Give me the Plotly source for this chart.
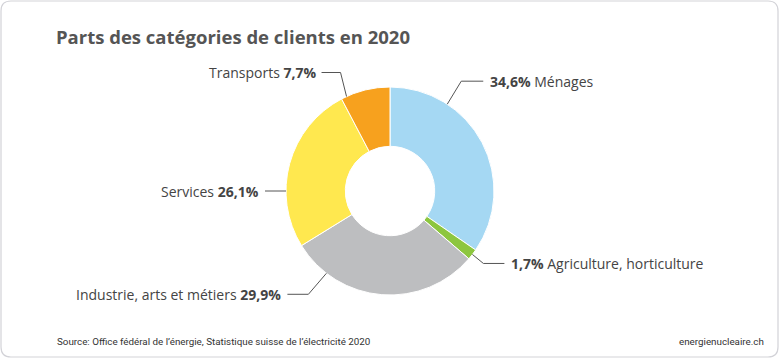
import math
import plotly.graph_objects as go

# ---- data ----
categories = ["Ménages", "Agriculture, horticulture", "Industrie, arts et métiers", "Services", "Transports"]
shares = [34.6, 1.7, 29.9, 26.1, 7.7]
share_labels = ["34,6%", "1,7%", "29,9%", "26,1%", "7,7%"]
colors = ["#A5D8F3", "#8DC63F", "#BDBEC0", "#FFE84F", "#F7A11E"]

title = "Parts des catégories de clients en 2020"
source = "Source: Office fédéral de l’énergie, Statistique suisse de l’électricité 2020"
site = "energienucleaire.ch"

# ---- layout / style ----
W, H = 780, 360
CX, CY, R = 390, 191, 104  # pie centre & radius in px
HOLE = 0.43
FONT = "'Open Sans', Lato, sans-serif"
TXT = "#444444"

# leader line style per label: (angle from top clockwise, elbow dx, elbow dy, horizontal length, side)
leaders = [
    (33.4, 14, -23, 22, "right"),
    (127.6, 11, 9, 21, "right"),
    (217.7, -18, 21, 21, "left"),
    (270.0, 0, 0, 21, "left"),
    (335.3, -6, -24, 19, "left"),
]


def px(x):
    return x / W


def py(y):
    return 1 - y / H


fig = go.Figure()
fig.add_trace(go.Pie(
    labels=categories,
    values=shares,
    sort=False,
    direction="clockwise",
    rotation=0,
    hole=HOLE,
    marker=dict(colors=colors, line=dict(color="white", width=1)),
    textinfo="none",
    hoverinfo="label+percent",
    showlegend=False,
    domain=dict(x=[px(CX - R), px(CX + R)], y=[py(CY + R), py(CY - R)]),
))

shapes = []
annotations = []
for cat, lab, (ang, edx, edy, hlen, side) in zip(categories, share_labels, leaders):
    a = math.radians(ang)
    sx = CX + R * math.sin(a)
    sy = CY - R * math.cos(a)
    ex, ey = sx + edx, sy + edy
    hx = ex + (hlen if side == "right" else -hlen)
    shapes.append(dict(type="path", xref="paper", yref="paper",
                       path=f"M {px(sx)} {py(sy)} L {px(ex)} {py(ey)} L {px(hx)} {py(ey)}",
                       line=dict(color="#555555", width=1)))
    if side == "right":
        text = f"<b>{lab}</b> {cat}"
        annotations.append(dict(x=px(hx + 5), y=py(ey), xref="paper", yref="paper",
                                text=text, showarrow=False, xanchor="left", yanchor="middle",
                                font=dict(family=FONT, size=14, color=TXT)))
    else:
        text = f"{cat} <b>{lab}</b>"
        annotations.append(dict(x=px(hx - 4), y=py(ey), xref="paper", yref="paper",
                                text=text, showarrow=False, xanchor="right", yanchor="middle",
                                font=dict(family=FONT, size=14, color=TXT)))

# card border (rounded rectangle)
x0, y0, x1, y1, rr = 1, 1, 778, 357, 10
card = (f"M {px(x0+rr)} {py(y0)} L {px(x1-rr)} {py(y0)} Q {px(x1)} {py(y0)} {px(x1)} {py(y0+rr)} "
        f"L {px(x1)} {py(y1-rr)} Q {px(x1)} {py(y1)} {px(x1-rr)} {py(y1)} "
        f"L {px(x0+rr)} {py(y1)} Q {px(x0)} {py(y1)} {px(x0)} {py(y1-rr)} "
        f"L {px(x0)} {py(y0+rr)} Q {px(x0)} {py(y0)} {px(x0+rr)} {py(y0)} Z")
shapes.append(dict(type="path", xref="paper", yref="paper", path=card,
                   line=dict(color="#D3D3D8", width=1.2), layer="below"))

annotations.append(dict(x=px(54), y=py(37), xref="paper", yref="paper", text=f"<b>{title}</b>",
                        showarrow=False, xanchor="left", yanchor="middle",
                        font=dict(family=FONT, size=18.5, color="#555555")))
annotations.append(dict(x=px(55), y=py(341), xref="paper", yref="paper", text=source,
                        showarrow=False, xanchor="left", yanchor="middle",
                        font=dict(family="'Liberation Sans Narrow', Roboto, sans-serif", size=9.8, color="#333333")))
annotations.append(dict(x=px(766), y=py(341), xref="paper", yref="paper", text=site,
                        showarrow=False, xanchor="right", yanchor="middle",
                        font=dict(family="'Liberation Sans Narrow', Roboto, sans-serif", size=9.8, color="#333333")))

fig.update_layout(
    width=W, height=H,
    margin=dict(l=0, r=0, t=0, b=0),
    paper_bgcolor="white", plot_bgcolor="white",
    shapes=shapes, annotations=annotations,
)

fig.write_html("out.html", config={"displayModeBar": False},
               post_script="document.body.style.margin='0';document.body.style.overflow='hidden';")
